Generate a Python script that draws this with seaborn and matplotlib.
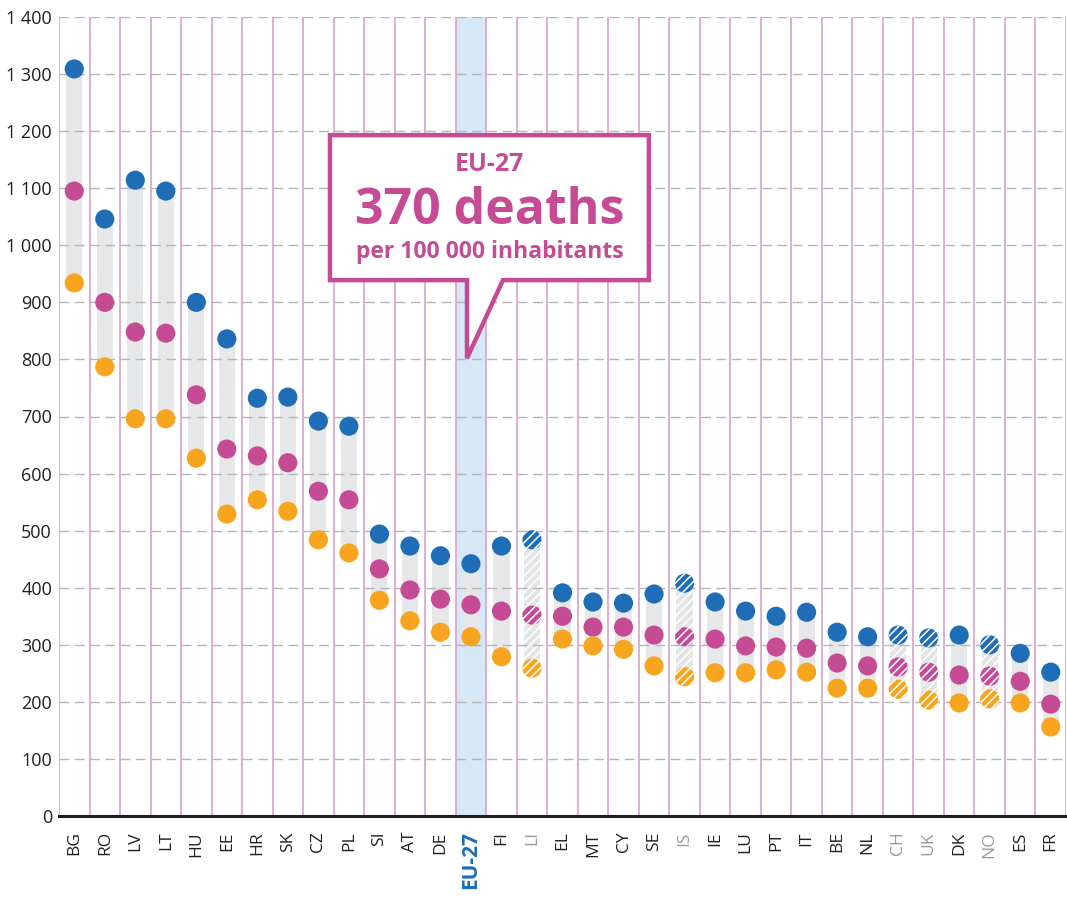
import numpy as np
import pandas as pd
import matplotlib
matplotlib.use("Agg")
import matplotlib.pyplot as plt
import seaborn as sns
from matplotlib.patches import Polygon

countries = ["BG", "RO", "LV", "LT", "HU", "EE", "HR", "SK", "CZ", "PL", "SI", "AT", "DE",
             "EU-27", "FI", "LI", "EL", "MT", "CY", "SE", "IS", "IE", "LU", "PT", "IT", "BE",
             "NL", "CH", "UK", "DK", "NO", "ES", "FR"]
men = [1309, 1046, 1114, 1095, 900, 836, 732, 734, 692, 683, 494, 473, 456,
       442, 473, 484, 391, 375, 373, 389, 408, 375, 359, 350, 357, 322,
       314, 317, 312, 317, 300, 285, 252]
total = [1095, 900, 848, 846, 738, 643, 631, 619, 569, 554, 433, 396, 380,
         370, 359, 352, 350, 331, 331, 317, 314, 310, 298, 296, 294, 268,
         263, 261, 252, 247, 245, 236, 196]
women = [934, 787, 696, 696, 627, 529, 554, 534, 484, 461, 378, 342, 322,
         314, 279, 259, 310, 298, 292, 263, 244, 251, 251, 256, 252, 224,
         224, 222, 203, 198, 205, 198, 156]
non_eu = ["LI", "IS", "CH", "UK", "NO"]
yticks = list(range(0, 1401, 100))

BLUE = "#1f6db6"
PINK = "#c54b95"
ORANGE = "#f7a51f"
BARGREY = "#e6e7e8"
SEP = "#dea7cd"

sns.set_theme(style="white")
plt.rcParams["font.family"] = ["Open Sans", "DejaVu Sans"]
plt.rcParams["hatch.color"] = "white"
plt.rcParams["hatch.linewidth"] = 1.1

n = len(countries)
xpos = np.arange(n)
df = pd.DataFrame({"country": countries, "x": xpos, "men": men,
                   "total": total, "women": women})
df["lo"] = df[["men", "total", "women"]].min(axis=1)
df["hi"] = df[["men", "total", "women"]].max(axis=1)
df["non_eu"] = df["country"].isin(non_eu)

long = df.melt(id_vars=["country", "x", "non_eu"], value_vars=["men", "total", "women"],
               var_name="series", value_name="value")
palette = {"men": BLUE, "total": PINK, "women": ORANGE}

fig, ax = plt.subplots(figsize=(10.67, 8.99), dpi=100)
fig.subplots_adjust(left=59 / 1067, right=1066 / 1067, top=1 - 17 / 899, bottom=1 - 816 / 899)

# EU-27 highlight column
eu_i = countries.index("EU-27")
ax.axvspan(eu_i - 0.5, eu_i + 0.5, color="#d6e7f5", zorder=0.5, lw=0)

# separators
for b in np.arange(-0.5, n, 1.0):
    ax.axvline(b, color=SEP, lw=1.3, zorder=1)

# range bars
eu_rows = df[~df["non_eu"]]
ne_rows = df[df["non_eu"]]
ax.bar(eu_rows["x"], eu_rows["hi"] - eu_rows["lo"], bottom=eu_rows["lo"], width=0.53,
       color=BARGREY, lw=0, zorder=2)
ax.bar(ne_rows["x"], ne_rows["hi"] - ne_rows["lo"], bottom=ne_rows["lo"], width=0.53,
       facecolor="#e3e4e5", edgecolor="white", hatch="////", lw=0, zorder=2)

# gridlines
for v in yticks[1:]:
    ax.axhline(v, color="#b5b5b5", lw=1.0, ls=(0, (7, 4)), zorder=2.5)

# points
sns.scatterplot(data=long[~long["non_eu"]], x="x", y="value", hue="series", palette=palette,
                s=190, linewidth=0, legend=False, ax=ax, zorder=3)
ln = long[long["non_eu"]]
for ser, col in palette.items():
    sub = ln[ln["series"] == ser]
    ax.scatter(sub["x"], sub["value"], s=190, c=col, edgecolors="white", linewidths=0,
               hatch="////", zorder=3)

ax.set_xlim(-0.5, n - 0.5)
ax.set_ylim(0, 1400)
ax.set_xlabel("")
ax.set_ylabel("")
ax.set_yticks(yticks)
ax.set_yticklabels([f"{v:,}".replace(",", " ") for v in yticks], fontsize=13, color="#231f20")
ax.set_xticks(xpos)
ax.set_xticklabels(countries, rotation=90, fontsize=12.5, color="#231f20")
ax.tick_params(axis="x", length=0, pad=11)
ax.tick_params(axis="y", length=0, pad=5)
for lab in ax.get_xticklabels():
    t = lab.get_text()
    if t in non_eu:
        lab.set_color("#9a9a9a")
    elif t == "EU-27":
        lab.set_color(BLUE)
        lab.set_fontweight("bold")
        lab.set_fontsize(15)

for s in ["left", "top", "right"]:
    ax.spines[s].set_visible(False)
ax.spines["bottom"].set_color("#231f20")
ax.spines["bottom"].set_linewidth(2.2)
ax.spines["bottom"].set_zorder(4)

# callout
L, R, T, B = 8.38, 18.83, 1193, 939
tl, tr, tip = 12.87, 14.05, (12.87, 802)
poly = Polygon([(L, T), (R, T), (R, B), (tr, B), tip, (tl, B), (L, B)], closed=True,
               facecolor="white", edgecolor=PINK, lw=3.2, joinstyle="miter", zorder=5)
ax.add_patch(poly)
cx = (L + R) / 2
ax.text(cx, 1142, "EU-27", ha="center", va="center", fontsize=18, fontweight="bold",
        color=PINK, zorder=6)
ax.text(cx, 1060, "370 deaths", ha="center", va="center", fontsize=36, fontweight="bold",
        color=PINK, zorder=6)
ax.text(cx, 988, "per 100 000 inhabitants", ha="center", va="center", fontsize=16.5,
        fontweight="bold", color=PINK, zorder=6)

fig.savefig("out.png", dpi=100)
